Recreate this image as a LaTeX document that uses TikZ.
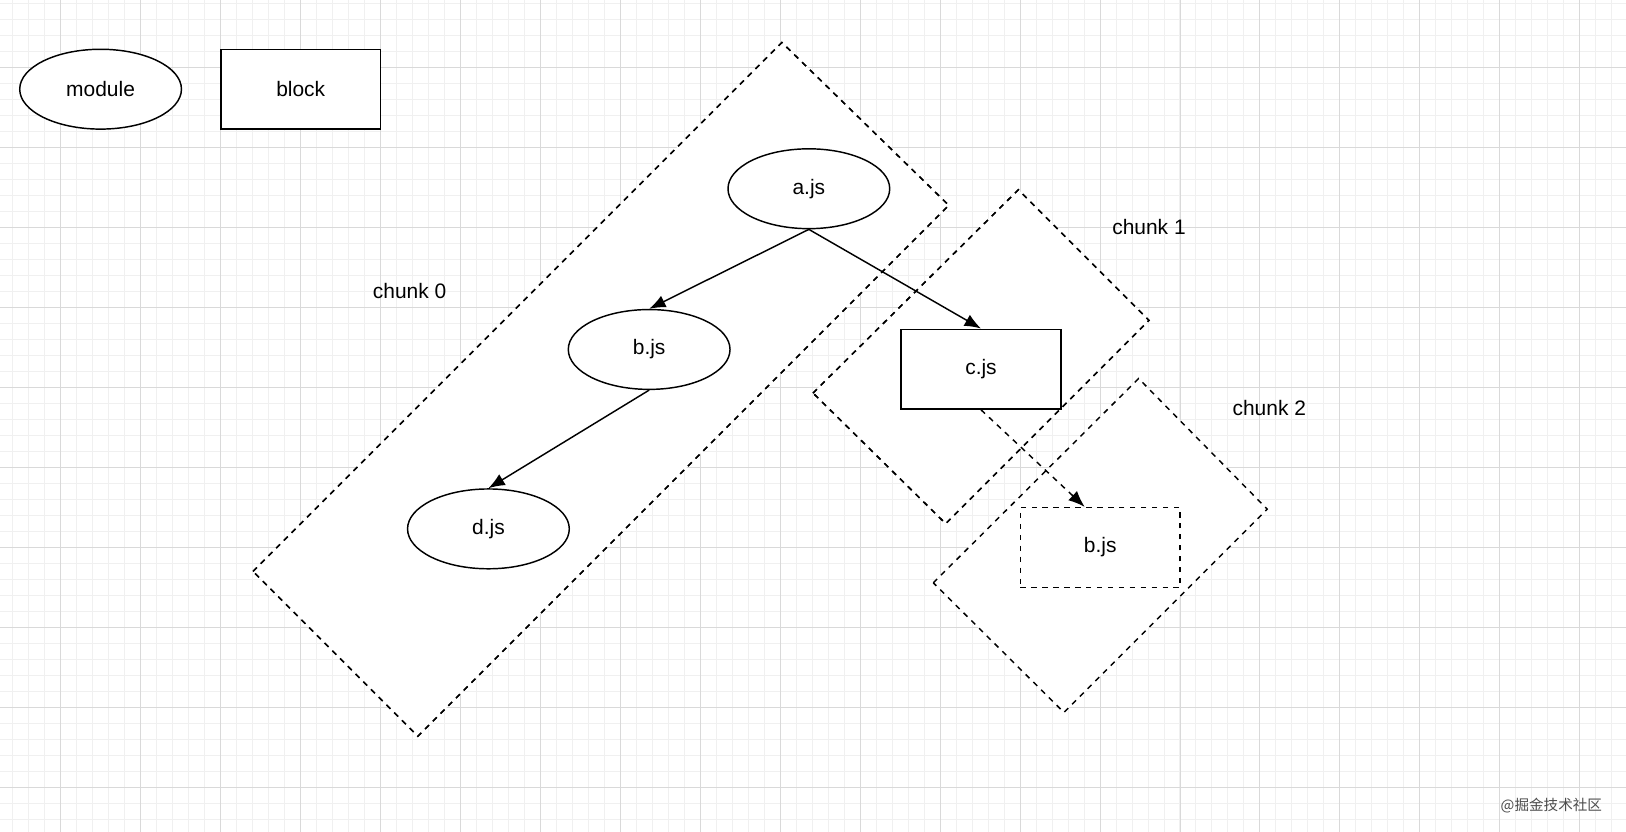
\documentclass[tikz,border=0pt]{standalone}
\usepackage{fontspec}
\setmainfont{Liberation Sans}
\newfontfamily\cjk{Noto Sans CJK SC}
\usetikzlibrary{shapes.geometric, arrows.meta}
\begin{document}
\begin{tikzpicture}[x=0.02cm, y=-0.02cm, font=\fontsize{11.5}{13}\selectfont,
  module/.style={draw, ellipse, fill=white, line width=0.8pt, minimum width=3.12cm, minimum height=1.54cm},
  blockbox/.style={draw, rectangle, fill=white, line width=0.8pt, minimum width=3.08cm, minimum height=1.54cm},
  chunkbox/.style={draw, dashed, line width=0.8pt, fill=white},
  link/.style={-{Latex[length=9pt, width=7pt]}, line width=0.8pt}]
%% Background
  \fill[white] (0,0) rectangle (1568,802);
  \useasboundingbox (0,0) rectangle (1568,802);
  \foreach \x in {0,15.42,...,1568} \draw[black!6] (\x+12.1,0) -- (\x+12.1,802);
  \foreach \y in {0,15.42,...,802} \draw[black!6] (0,\y+3.3) -- (1568,\y+3.3);
  \foreach \x in {0,77.1,...,1568} \draw[black!15] (\x+58.4,0) -- (\x+58.4,802);
  \foreach \y in {0,77.1,...,802} \draw[black!15] (0,\y+65) -- (1568,\y+65);
%% Chunks
  \filldraw[chunkbox] (244,551) -- (754,41) -- (915,198) -- (403,710) -- cycle;
  \filldraw[chunkbox] (784,379) -- (982,183) -- (1108,309) -- (912,505) -- cycle;
  \filldraw[chunkbox] (900,562) -- (1098,365) -- (1222,491) -- (1026,687) -- cycle;
  \draw[chunkbox, fill=none] (244,551) -- (754,41) -- (915,198) -- (403,710) -- cycle;
  \draw[chunkbox, fill=none] (784,379) -- (982,183) -- (1108,309) -- (912,505) -- cycle;
  \node (chunk0) at (395,281) {chunk 0};
  \node (chunk1) at (1108,219) {chunk 1};
  \node (chunk2) at (1224,393) {chunk 2};
%% Legend
  \node[module] (module) at (97,86) {module};
  \node[blockbox] (block) at (290,86) {block};
%% Modules
  \node[module] (a) at (780,182) {a.js};
  \node[module] (b) at (626,337) {b.js};
  \node[module] (d) at (471,510) {d.js};
  \node[blockbox] (c) at (946,356) {c.js};
  \node[blockbox, dashed] (b2) at (1061,528) {b.js};
%% Edges
  \draw[link] (a.south) -- (b.north);
  \draw[link] (a.south) -- (c.north);
  \draw[link] (b.south) -- (d.north);
  \draw[link, dashed] (c.south) -- (b2.north west -| 1046,0);
  \node[text=black!70, font=\cjk\fontsize{8}{9}\selectfont] (mark) at (1496,777) {@掘金技术社区};
\end{tikzpicture}
\end{document}
